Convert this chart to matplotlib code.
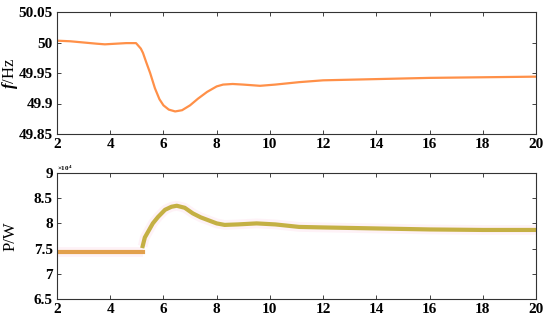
import matplotlib
matplotlib.use('Agg')
import matplotlib.pyplot as plt
import numpy as np

plt.rcParams['font.family'] = 'Liberation Serif'
plt.rcParams['font.weight'] = 'bold'
plt.rcParams['mathtext.fontset'] = 'custom'
plt.rcParams['mathtext.it'] = 'Liberation Serif:italic:bold'
plt.rcParams['mathtext.rm'] = 'Liberation Serif:bold'

# frequency curve (top)
t_f = [2, 2.5, 3, 3.5, 3.8, 4.2, 4.6, 4.97, 5.05, 5.15, 5.23, 5.35, 5.5, 5.68, 5.85, 6.0,
       6.2, 6.44, 6.7, 7.0, 7.3, 7.64, 8.0, 8.24, 8.6, 9.0, 9.63, 10.2, 11.1, 12, 14, 16,
       18, 20]
f_hz = [50.003, 50.002, 50.0, 49.998, 49.997, 49.998, 49.999, 49.999, 49.995, 49.99,
        49.983, 49.968, 49.95, 49.925, 49.907, 49.897, 49.89, 49.887, 49.889, 49.897,
        49.908, 49.919, 49.928, 49.931, 49.932, 49.931, 49.929, 49.931, 49.935, 49.938,
        49.940, 49.942, 49.943, 49.944]

# power curve (bottom), units of 1e4 W
t_p1 = [2, 3, 4, 5, 5.22]
p_1 = [7.43, 7.43, 7.43, 7.43, 7.43]
t_p2 = [5.22, 5.3, 5.6, 5.8, 6.06, 6.3, 6.5, 6.8, 7.1, 7.4, 7.75, 8.0, 8.3, 8.8, 9.5,
        10.2, 11.1, 12, 14, 16, 18, 20]
p_2 = [7.55, 7.72, 8.0, 8.13, 8.27, 8.33, 8.35, 8.31, 8.2, 8.12, 8.05, 8.0, 7.97, 7.98,
       8.0, 7.98, 7.93, 7.92, 7.9, 7.88, 7.87, 7.87]

fig = plt.figure(figsize=(5.5, 3.23), dpi=100)
ax1 = fig.add_axes([57 / 550, 1 - 134 / 323, 479 / 550, 122 / 323])
ax2 = fig.add_axes([57 / 550, 1 - 299 / 323, 479 / 550, 126 / 323])

ax1.plot(t_f, f_hz, color='#ff9048', lw=1.6)
ax1.set_xlim(2, 20)
ax1.set_ylim(49.85, 50.05)
ax1.set_yticks([49.85, 49.9, 49.95, 50, 50.05])
ax1.set_yticklabels(['49.85', '49.9', '49.95', '50', '50.05'])
ax1.set_ylabel(r'$\mathit{f}$/Hz', fontsize=12)
ax1.yaxis.set_label_coords(-0.077, 0.5)

ax2.plot(t_p2, p_2, color='#fef2f7', lw=7, solid_capstyle='butt')
ax2.plot(t_p1, p_1, color='#fef2f7', lw=7, solid_capstyle='butt')
ax2.plot(t_p1, p_1, color='#e2a04c', lw=3)
ax2.plot(t_p2, p_2, color='#c4b044', lw=3)
ax2.set_xlim(2, 20)
ax2.set_ylim(6.5, 9)
ax2.set_yticks([6.5, 7, 7.5, 8, 8.5, 9])
ax2.set_yticklabels(['6.5', '7', '7.5', '8', '8.5', '9'])
ax2.set_ylabel('P/W', fontsize=12)
ax2.yaxis.set_label_coords(-0.08, 0.5)
ax2.text(0.0, 1.0, r'$\times10^4$', transform=ax2.transAxes, fontsize=5,
         ha='left', va='bottom', fontweight='normal')

for ax in (ax1, ax2):
    ax.set_xticks(range(2, 21, 2))
    ax.tick_params(direction='in', top=True, right=True, labelsize=11, length=3,
                   width=0.6, pad=3, colors='#222222', labelcolor='black')
    for s in ax.spines.values():
        s.set_linewidth(0.8)
        s.set_color('#333333')

fig.savefig('out.png', dpi=100)
